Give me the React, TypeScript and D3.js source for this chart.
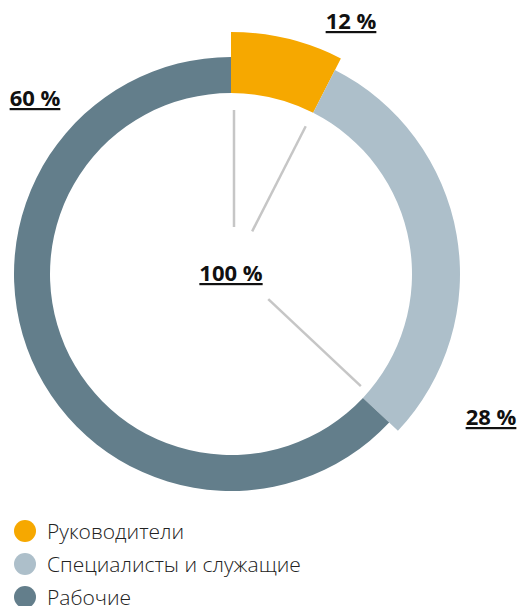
import React, { useRef, useEffect } from "react";
import * as d3 from "d3";

// shares as drawn in the ring (the printed labels are rounded differently)
const categories = ["Руководители", "Специалисты и служащие", "Рабочие"];
const arcShares = [7.5, 29.5, 63];
const labels = ["12 %", "28 %", "60 %"];
const totalLabel = "100 %";
const colors = ["#F6A800", "#ADBFCA", "#637E8B"];
const outerRadii = [242, 229, 217];

const W = 519;
const H = 606;

const App = () => {
  const ref = useRef<SVGSVGElement>(null);

  useEffect(() => {
    const svg = d3.select(ref.current);
    svg.selectAll("*").remove();
    svg.attr("width", W).attr("height", H);

    const cx = 231;
    const cy = 274;
    const inner = 181;

    const pie = d3
      .pie<number>()
      .sort(null)
      .value((d) => d);
    const arcs = pie(arcShares);

    const g = svg.append("g").attr("transform", `translate(${cx},${cy})`);

    g.selectAll("path")
      .data(arcs)
      .enter()
      .append("path")
      .attr("d", (d, i) =>
        d3.arc<any>().innerRadius(inner).outerRadius(outerRadii[i])(d)
      )
      .attr("fill", (d, i) => colors[i]);

    // leader lines at the slice boundaries, from a point just above center
    const lo = { x: 3, y: -7 };
    const lineSpans = [
      [40, 157],
      [40, 158],
      [47, 174],
    ];
    arcs.forEach((a, i) => {
      const ang = a.startAngle;
      const [r0, r1] = lineSpans[i];
      g.append("line")
        .attr("x1", lo.x + r0 * Math.sin(ang))
        .attr("y1", lo.y - r0 * Math.cos(ang))
        .attr("x2", lo.x + r1 * Math.sin(ang))
        .attr("y2", lo.y - r1 * Math.cos(ang))
        .attr("stroke", "#C6C6C6")
        .attr("stroke-width", 2.5);
    });

    // value labels
    const labelPos = [
      { x: 351, y: 29 },
      { x: 491, y: 425 },
      { x: 35, y: 106 },
    ];
    const addLabel = (t: string, x: number, y: number) =>
      svg
        .append("text")
        .attr("x", x)
        .attr("y", y)
        .attr("text-anchor", "middle")
        .style("font-family", "'Open Sans', sans-serif")
        .style("font-weight", 700)
        .style("font-size", "22px")
        .style("text-decoration", "underline")
        .attr("fill", "#111")
        .text(t);
    labels.forEach((t, i) => addLabel(t, labelPos[i].x, labelPos[i].y));
    addLabel(totalLabel, 231, 281);

    // legend
    const legend = svg.append("g");
    categories.forEach((c, i) => {
      const y = 531 + i * 33;
      legend
        .append("circle")
        .attr("cx", 25)
        .attr("cy", y)
        .attr("r", 11)
        .attr("fill", colors[i]);
      legend
        .append("text")
        .attr("x", 47)
        .attr("y", y + 8)
        .style("font-family", "'Open Sans', sans-serif")
        .style("font-weight", 300)
        .style("font-size", "21px")
        .attr("fill", "#222")
        .text(c);
    });
  }, []);

  return (
    <div style={{ position: "absolute", left: 0, top: 0 }}>
      <svg ref={ref} style={{ display: "block" }} />
    </div>
  );
};

export default App;
